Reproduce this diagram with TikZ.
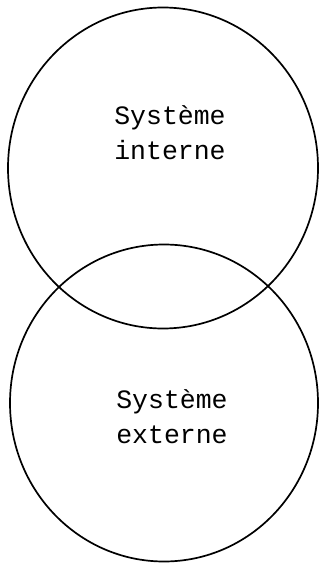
\documentclass[tikz,border=0pt]{standalone}
\usepackage{fontspec}
\setmonofont{Liberation Mono}
\usetikzlibrary{shapes.geometric}

\tikzset{
  sys/.style={draw, ellipse, line width=1.7pt, inner sep=0pt},
  label/.style={font=\ttfamily\fontsize{26.5}{35}\selectfont, align=center, inner sep=0pt}
}

\begin{document}
\begin{tikzpicture}[x=1pt,y=-1pt]
\useasboundingbox (0,0) rectangle (321,567);
% the two systems
\node[sys, minimum width=310pt, minimum height=321pt] (interne) at (163,168) {};
\node[sys, minimum width=308pt, minimum height=317pt] (externe) at (164,403) {};
% labels
\node[label] (tint) at (170,133) {Système\\interne};
\node[label] (text) at (172,417) {Système\\externe};
\end{tikzpicture}
\end{document}
